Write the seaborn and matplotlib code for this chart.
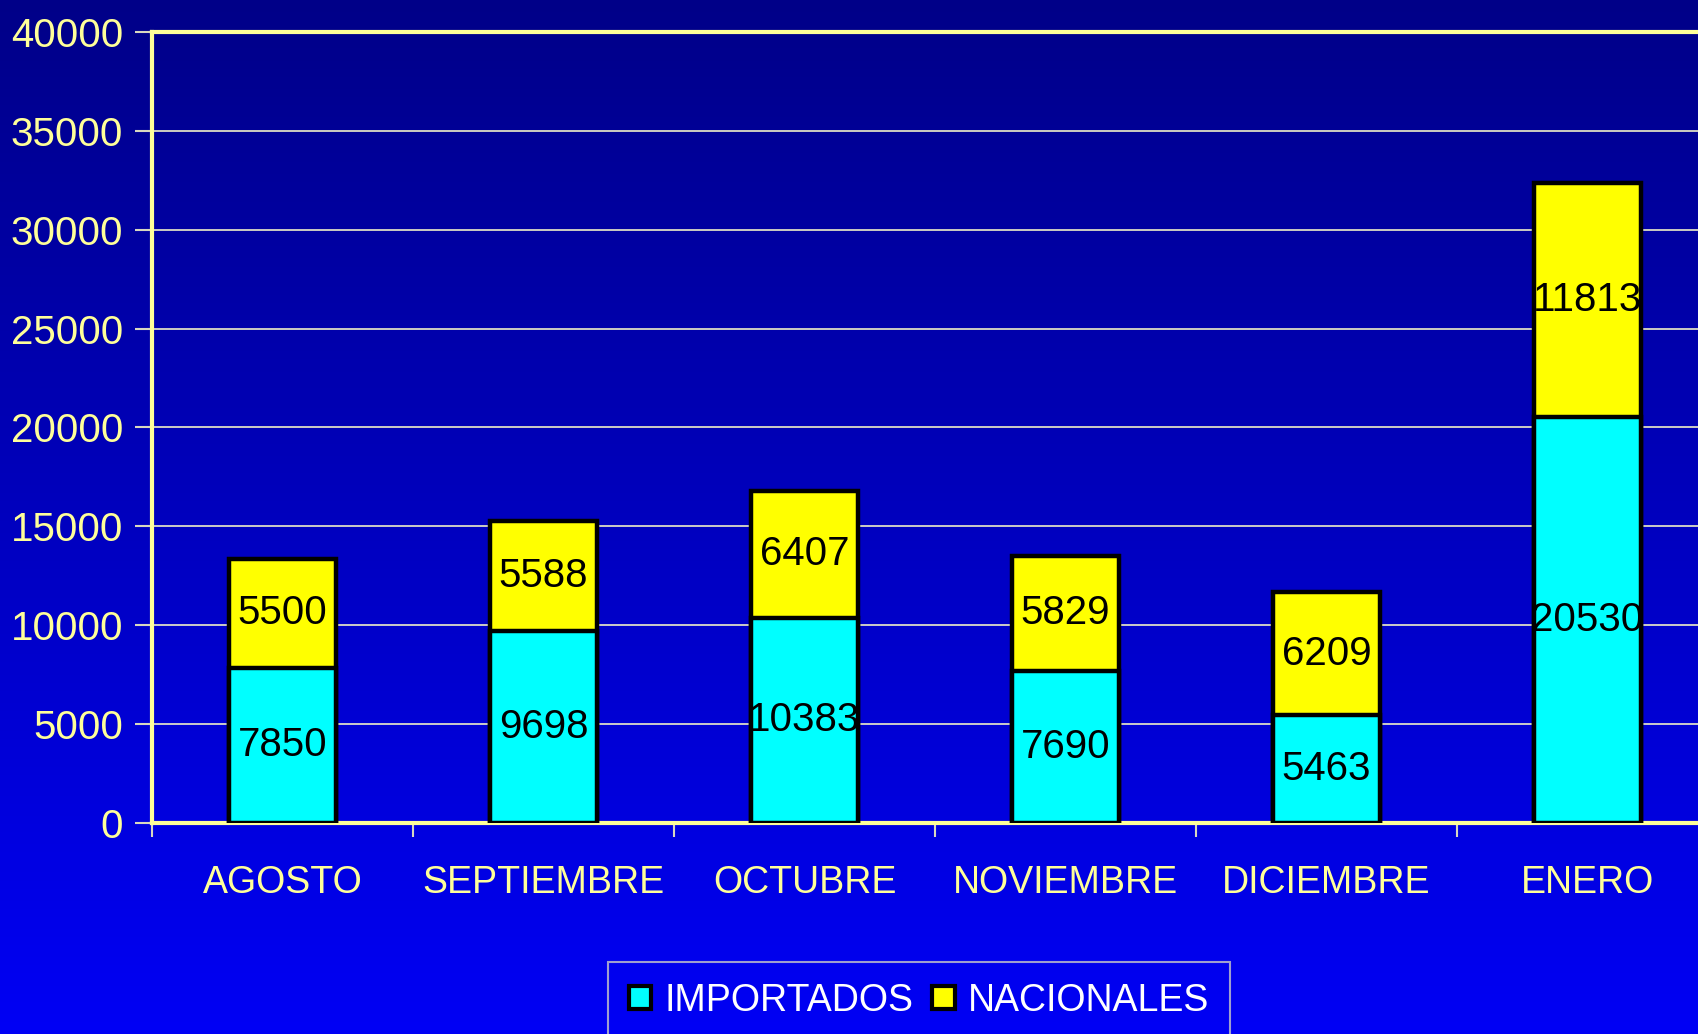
import numpy as np
import pandas as pd
import matplotlib
matplotlib.use("Agg")
import matplotlib.pyplot as plt
import seaborn as sns
from matplotlib.patches import Patch

#%%
# Data
meses = ["AGOSTO", "SEPTIEMBRE", "OCTUBRE", "NOVIEMBRE", "DICIEMBRE", "ENERO"]
importados = [7850, 9698, 10383, 7690, 5463, 20530]
nacionales = [5500, 5588, 6407, 5829, 6209, 11813]
yticks = [0, 5000, 10000, 15000, 20000, 25000, 30000, 35000, 40000]

df = pd.DataFrame({"mes": meses, "importados": importados, "nacionales": nacionales})
df["total"] = df["importados"] + df["nacionales"]

#%%
# Style
sns.set_style("white")
plt.rcParams["font.family"] = ["Liberation Sans", "DejaVu Sans"]
amarillo_txt = "#FFFF99"
cian = "#00FFFF"
amarillo = "#FFFF00"

fig = plt.figure(figsize=(16.99, 10.34), dpi=100)

# gradient background
bg = fig.add_axes([0, 0, 1, 1], zorder=-10)
grad = np.linspace(0, 1, 256).reshape(-1, 1)
top = np.array([0, 0, 0x88]) / 255
bot = np.array([0, 0, 0xF5]) / 255
img = top + grad[..., None] * (bot - top)
bg.imshow(img, aspect="auto", extent=[0, 1, 0, 1])
bg.axis("off")

ax = fig.add_axes([0.0895, 0.2041, 0.9217, 0.765])
ax.set_facecolor("none")

# stacked bars: total (yellow) then importados (cyan) on top of it
sns.barplot(data=df, x="mes", y="total", color=amarillo, saturation=1, width=0.41,
            edgecolor="black", linewidth=3.2, ax=ax, zorder=3)
sns.barplot(data=df, x="mes", y="importados", color=cian, saturation=1, width=0.41,
            edgecolor="black", linewidth=3.2, ax=ax, zorder=4)

for i, row in df.iterrows():
    ax.text(i, row["importados"] / 2, str(row["importados"]), ha="center", va="center",
            fontsize=29, color="black", zorder=6)
    ax.text(i, row["importados"] + row["nacionales"] / 2, str(row["nacionales"]),
            ha="center", va="center", fontsize=29, color="black", zorder=6)

ax.set_xlim(-0.5, 5.5)
ax.set_ylim(0, 40000)
ax.set_yticks(yticks)
ax.set_yticklabels([str(v) for v in yticks])
ax.set_xlabel("")
ax.set_ylabel("")
ax.yaxis.grid(True, color="#EEEEC8", linewidth=1.2, zorder=0)
ax.set_axisbelow(True)

ax.tick_params(axis="y", colors="#D8D8C0", labelcolor=amarillo_txt, labelsize=29,
               length=12, width=1.5, pad=9, left=True)
ax.set_xticks(np.arange(len(meses)))
ax.set_xticklabels(meses, fontsize=27, color=amarillo_txt)
ax.tick_params(axis="x", which="major", length=0, pad=30)
ax.set_xticks(np.arange(-0.5, len(meses), 1), minor=True)
ax.tick_params(axis="x", which="minor", length=10, width=1.5, color="#D8D8C0", bottom=True)

for s in ["left", "top", "bottom"]:
    ax.spines[s].set_color(amarillo_txt)
    ax.spines[s].set_linewidth(3)
ax.spines["right"].set_visible(False)

#%%
# Legend
handles = [Patch(facecolor=cian, edgecolor="black", linewidth=3),
           Patch(facecolor=amarillo, edgecolor="black", linewidth=3)]
leg = fig.legend(handles, ["IMPORTADOS", "NACIONALES"], loc="upper center",
                 bbox_to_anchor=(0.541, 1 - 962 / 1034), ncol=2, frameon=True,
                 fancybox=False, facecolor="none", edgecolor="#C8C8C8",
                 prop={"size": 27}, handlelength=0.6,
                 handleheight=0.6, handletextpad=0.35, columnspacing=0.5,
                 borderpad=0.55, borderaxespad=0)
for t in leg.get_texts():
    t.set_color("white")
leg.get_frame().set_linewidth(1.5)

fig.savefig("out.png", dpi=100)
